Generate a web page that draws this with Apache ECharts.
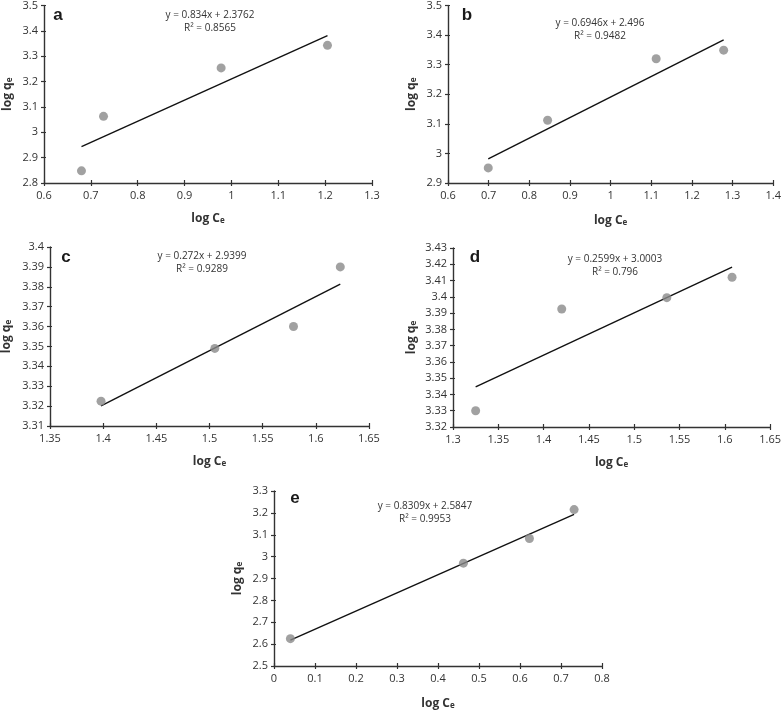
<!DOCTYPE html>
<html><head><meta charset="utf-8">
<script src="https://cdn.jsdelivr.net/npm/echarts@6/dist/echarts.min.js"></script>
<style>html,body{margin:0;padding:0;background:#fff}#c{width:784px;height:711px}</style>
</head><body><div id="c"></div>
<script>
// ---- data ----
const panelLabels = ['a', 'b', 'c', 'd', 'e'];
const xA = [0.68, 0.727, 0.978, 1.205];
const yA = [2.848, 3.063, 3.254, 3.343];
const xB = [0.699, 0.845, 1.112, 1.278];
const yB = [2.951, 3.112, 3.32, 3.349];
const xC = [1.398, 1.505, 1.579, 1.623];
const yC = [3.3225, 3.349, 3.360, 3.390];
const xD = [1.325, 1.42, 1.536, 1.608];
const yD = [3.330, 3.3925, 3.3995, 3.412];
const xE = [0.04, 0.462, 0.623, 0.732];
const yE = [2.625, 2.970, 3.083, 3.215];
const slopes = [0.834, 0.6946, 0.272, 0.2599, 0.8309];
const intercepts = [2.3762, 2.496, 2.9399, 3.0003, 2.5847];
const equations = ['y = 0.834x + 2.3762', 'y = 0.6946x + 2.496', 'y = 0.272x + 2.9399', 'y = 0.2599x + 3.0003', 'y = 0.8309x + 2.5847'];
const r2Labels = ['R² = 0.8565', 'R² = 0.9482', 'R² = 0.9289', 'R² = 0.796', 'R² = 0.9953'];
const xMin = [0.6, 0.6, 1.35, 1.3, 0];
const xMax = [1.3, 1.4, 1.65, 1.65, 0.8];
const xInt = [0.1, 0.1, 0.05, 0.05, 0.1];
const yMin = [2.8, 2.9, 3.31, 3.32, 2.5];
const yMax = [3.5, 3.5, 3.4, 3.43, 3.3];
const yInt = [0.1, 0.1, 0.01, 0.01, 0.1];
const xName = 'log C';
const yName = 'log q';
const subLetter = 'e';

const xs = [xA, xB, xC, xD, xE];
const ys = [yA, yB, yC, yD, yE];

// ---- layout ----
const grids = [
  {left: 44, top: 5, width: 328, height: 178},
  {left: 448, top: 5, width: 329, height: 178},
  {left: 50, top: 247, width: 319, height: 179},
  {left: 453, top: 248, width: 319, height: 179},
  {left: 274, top: 491, width: 328, height: 177}
];
const xGap = [26, 28, 26, 26, 28];
const yGap = [30, 30, 37, 35, 30];
const letterPos = [[58, 15], [467, 15], [66, 257], [475, 257], [295, 498]];
const eqPos = [[210, 22], [600, 30], [202, 263], [615, 266], [425, 513]];

const FONT = '"Open Sans", "Noto Sans", sans-serif';
const AX = '#333333';
const richName = {
  m: {fontSize: 12, fontWeight: 'bold', fontFamily: FONT, color: AX, lineHeight: 16, verticalAlign: 'bottom'},
  s: {fontSize: 8, fontWeight: 'bold', fontFamily: FONT, color: AX, lineHeight: 8, verticalAlign: 'bottom'}
};

const xAxis = [], yAxis = [], series = [], graphic = [];
grids.forEach((g, i) => {
  const base = {gridIndex: i, type: 'value', splitLine: {show: false}};
  xAxis.push(Object.assign({}, base, {
    position: 'bottom',
    min: xMin[i], max: xMax[i], interval: xInt[i],
    axisLine: {lineStyle: {color: AX, width: 1.4}},
    axisTick: {show: true, length: 3, lineStyle: {color: AX, width: 1.2}},
    axisLabel: {color: AX, fontSize: 11, fontFamily: FONT, margin: 7},
    name: '{m|' + xName + '}{s|' + subLetter + '}', nameLocation: 'middle', nameGap: xGap[i],
    nameTextStyle: {rich: richName}
  }));
  xAxis.push(Object.assign({}, base, {
    position: 'bottom',
    min: xMin[i], max: xMax[i], interval: xInt[i],
    axisLine: {show: false},
    axisTick: {show: true, inside: true, length: 3, lineStyle: {color: AX, width: 1.2}},
    axisLabel: {show: false}
  }));
  yAxis.push(Object.assign({}, base, {
    position: 'left',
    min: yMin[i], max: yMax[i], interval: yInt[i],
    axisLine: {show: true, lineStyle: {color: AX, width: 1.4}},
    axisTick: {show: true, length: 3, lineStyle: {color: AX, width: 1.2}},
    axisLabel: {color: AX, fontSize: 11, fontFamily: FONT, margin: 6},
    name: '{m|' + yName + '}{s|' + subLetter + '}', nameLocation: 'middle', nameGap: yGap[i], nameRotate: 90,
    nameTextStyle: {rich: richName}
  }));
  yAxis.push(Object.assign({}, base, {
    position: 'left',
    min: yMin[i], max: yMax[i], interval: yInt[i],
    axisLine: {show: false},
    axisTick: {show: true, inside: true, length: 2, lineStyle: {color: AX, width: 1.2}},
    axisLabel: {show: false}
  }));
  const pts = xs[i].map((x, k) => [x, ys[i][k]]);
  const x0 = Math.min.apply(null, xs[i]), x1 = Math.max.apply(null, xs[i]);
  series.push({
    type: 'line', xAxisIndex: 2 * i, yAxisIndex: 2 * i, z: 2,
    data: [[x0, slopes[i] * x0 + intercepts[i]], [x1, slopes[i] * x1 + intercepts[i]]],
    showSymbol: false, symbol: 'none', lineStyle: {color: '#111', width: 1.4}, silent: true
  });
  series.push({
    type: 'scatter', xAxisIndex: 2 * i, yAxisIndex: 2 * i, z: 3,
    data: pts, symbolSize: 9, itemStyle: {color: '#8a8a8a'}
  });
  graphic.push({
    type: 'text', x: letterPos[i][0], y: letterPos[i][1],
    style: {text: panelLabels[i], font: 'bold 17px "Liberation Sans", Arial, sans-serif', fill: '#1a1a1a', align: 'center', verticalAlign: 'middle'}
  });
  graphic.push({
    type: 'text', x: eqPos[i][0], y: eqPos[i][1],
    style: {text: equations[i] + '\n' + r2Labels[i], font: '10px ' + FONT, fill: AX, align: 'center', verticalAlign: 'middle', lineHeight: 13}
  });
});

const chart = echarts.init(document.getElementById('c'), null, {renderer: 'canvas'});
chart.setOption({
  animation: false,
  backgroundColor: '#fff',
  grid: grids.map(g => Object.assign({containLabel: false}, g)),
  xAxis, yAxis, series, graphic
});
</script>
</body></html>
